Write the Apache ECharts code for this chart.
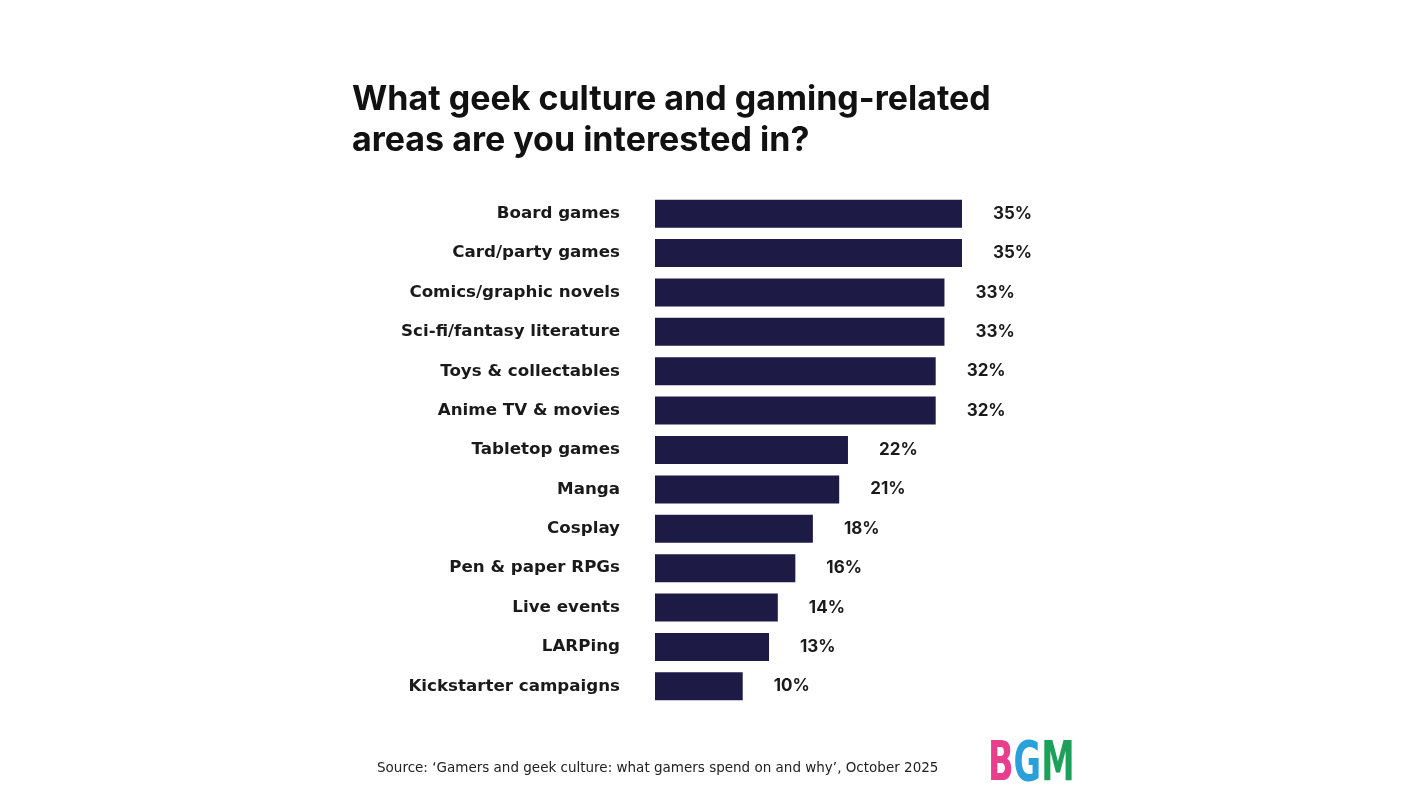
<!DOCTYPE html>
<html>
<head>
<meta charset="utf-8">
<script src="https://cdn.jsdelivr.net/npm/echarts@6/dist/echarts.min.js"></script>
<style>html,body{margin:0;padding:0;background:#fff}#c{width:1428px;height:800px}</style>
</head>
<body>
<div id="c"></div>
<script>
const categories = ["Board games","Card/party games","Comics/graphic novels","Sci-fi/fantasy literature","Toys & collectables","Anime TV & movies","Tabletop games","Manga","Cosplay","Pen & paper RPGs","Live events","LARPing","Kickstarter campaigns"];
const values = [35,35,33,33,32,32,22,21,18,16,14,13,10];
const titleText = "What geek culture and gaming-related\nareas are you interested in?";
const sourceText = "Source: \u2018Gamers and geek culture: what gamers spend on and why\u2019, October 2025";

const chart = echarts.init(document.getElementById('c'));
chart.setOption({
  backgroundColor: '#ffffff',
  animation: false,
  title: {
    text: titleText,
    left: 347, top: 74,
    textStyle: { fontFamily: 'Inter', fontWeight: 'bold', fontSize: 34, lineHeight: 41, color: '#111111' }
  },
  grid: { left: 655, right: 466, top: 194, bottom: 94, containLabel: false },
  xAxis: { type: 'value', min: 0, max: 35, show: false },
  yAxis: {
    type: 'category', data: categories, inverse: true,
    axisLine: { show: false }, axisTick: { show: false },
    axisLabel: { margin: 35, fontFamily: 'DejaVu Sans', fontWeight: 'bold', fontSize: 16.7, color: '#1a1a1a' }
  },
  series: [{
    type: 'bar', data: values, barWidth: 28,
    itemStyle: { color: '#1e1a46' },
    label: { show: true, position: 'right', distance: 31, formatter: '{c}%', fontFamily: 'Inter', fontWeight: 'bold', fontSize: 17, color: '#1a1a1a' }
  }],
  graphic: [
    { type: 'text', left: 377, top: 761, style: { text: sourceText, fontFamily: 'DejaVu Sans', fontSize: 13.5, fill: '#222' } },
    { type: 'text', x: 988, y: 737, scaleX: 0.6, style: {
      text: '{b|B}{g|G}{m|M}',
      rich: {
        b: { fontFamily: 'DejaVu Sans', fontWeight: 'bold', fontSize: 56, fill: '#e83e8c', textStroke: '#111', lineWidth: 2 },
        g: { fontFamily: 'DejaVu Sans', fontWeight: 'bold', fontSize: 56, fill: '#2aa0d8', textStroke: '#111', lineWidth: 2 },
        m: { fontFamily: 'DejaVu Sans', fontWeight: 'bold', fontSize: 56, fill: '#1fa05a', textStroke: '#111', lineWidth: 2 }
      }
    } }
  ]
});
</script>
</body>
</html>
